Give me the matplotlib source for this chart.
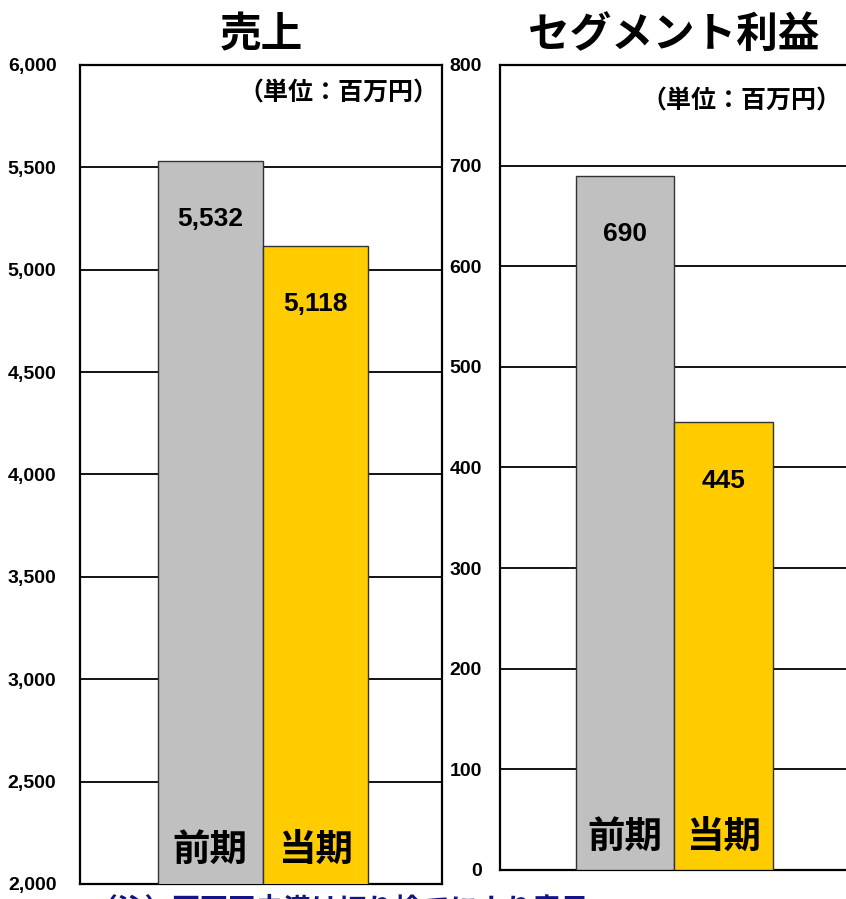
import matplotlib
matplotlib.use("agg")
from matplotlib import pyplot as plt
from matplotlib.ticker import FuncFormatter

# data
periods = ["前期", "当期"]
sales = [5532, 5118]
profit = [690, 445]
bar_colors = ["#C0C0C0", "#FFCC00"]
sales_ticks = [2000, 2500, 3000, 3500, 4000, 4500, 5000, 5500, 6000]
profit_ticks = [0, 100, 200, 300, 400, 500, 600, 700, 800]

plt.rcParams['font.family'] = ['Noto Sans CJK JP', 'DejaVu Sans']
num_font = ['Liberation Sans Narrow', 'Liberation Sans', 'DejaVu Sans']

fig = plt.figure(figsize=(8.46, 8.99), dpi=100)
ax1 = fig.add_axes([0.0946, 0.0167, 0.428, 0.911])
ax2 = fig.add_axes([0.591, 0.0323, 0.42, 0.8954])


def draw_panel(ax, values, ticks, title, xlim, label_off, cat_off, pad):
    x = list(range(len(values)))
    ax.bar(x, values, width=1.0, color=bar_colors, edgecolor="#333333",
           linewidth=1.0, zorder=3)
    ax.set_ylim(ticks[0], ticks[-1])
    ax.set_xlim(*xlim)
    ax.set_yticks(ticks)
    ax.yaxis.set_major_formatter(FuncFormatter(lambda v, p: f"{int(v):,}"))
    ax.set_xticks([])
    ax.grid(axis="y", color="black", linewidth=1.3, zorder=1)
    ax.tick_params(axis="y", length=0, pad=pad)
    for lab in ax.get_yticklabels():
        lab.set_family(num_font)
        lab.set_fontweight("bold")
        lab.set_fontsize(14)
    for s in ax.spines.values():
        s.set_linewidth(1.6)
    for xi, v in zip(x, values):
        ax.annotate(f"{v:,}", xy=(xi, v), xytext=(0, label_off),
                    textcoords="offset points", ha="center", va="center",
                    fontsize=19, fontweight="bold", family=num_font, zorder=4)
        ax.annotate(periods[xi], xy=(xi, ticks[0]), xytext=(0, cat_off),
                    textcoords="offset points", ha="center", va="center",
                    fontsize=27, fontweight="bold", zorder=4)
    ax.set_title(title, fontsize=30, fontweight="bold", pad=13)


draw_panel(ax1, sales, sales_ticks, "売上", (-1.24, 2.21), -42, 25, 17)
draw_panel(ax2, profit, profit_ticks, "セグメント利益", (-1.265, 2.33), -42, 24, 13)
ax2.spines["right"].set_visible(False)
ax2.title.set_position((0.49, 1.0))

ax1.text(0.99, 0.965, "（単位：百万円）", transform=ax1.transAxes, ha="right",
         va="center", fontsize=18, fontweight="bold")
ax2.text(0.962, 0.955, "（単位：百万円）", transform=ax2.transAxes, ha="right",
         va="center", fontsize=18, fontweight="bold")

fig.text(0.106, 0.004, "（注）百万円未満は切り捨てにより表示", ha="left", va="top",
         fontsize=20, fontweight="bold", color="#141488")

fig.savefig("out.png", dpi=100)
